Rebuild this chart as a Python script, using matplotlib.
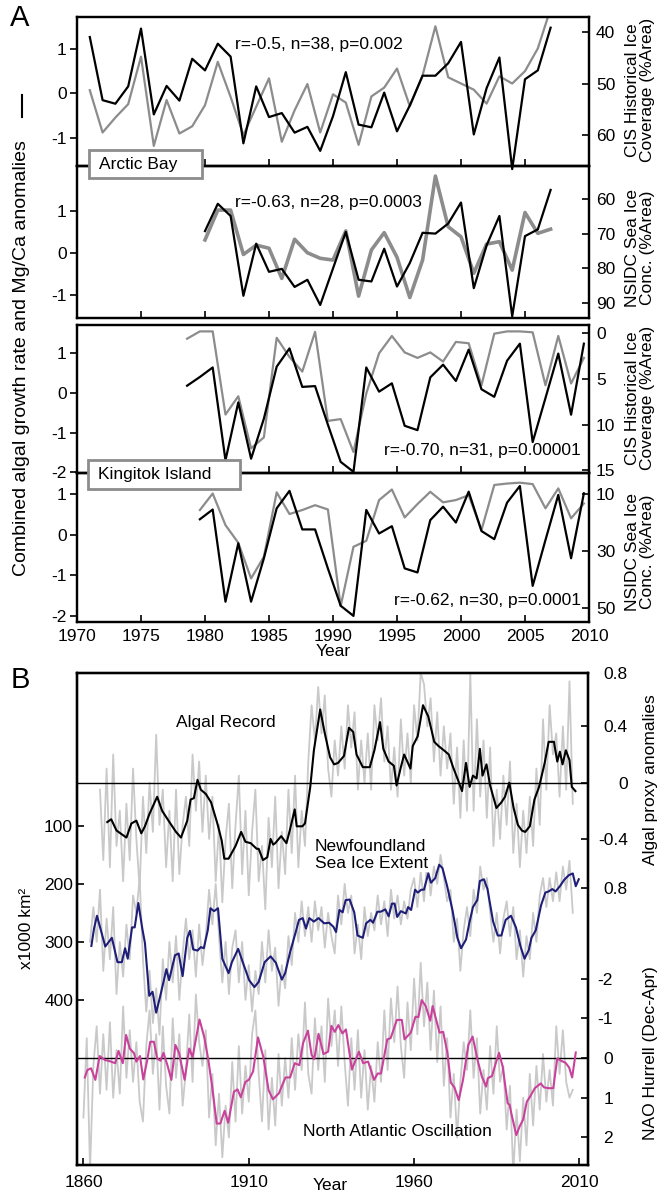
import matplotlib
matplotlib.use("Agg")
import matplotlib.pyplot as plt
from matplotlib.lines import Line2D
from matplotlib.patches import Rectangle

plt.rcParams['font.family'] = ['Liberation Sans', 'DejaVu Sans']
plt.rcParams['font.size'] = 12.5
plt.rcParams['axes.unicode_minus'] = False

# ---------------- Panel A data ----------------
# Arctic Bay, algal anomalies vs CIS ice coverage (%)
ab_years = list(range(1971, 2008))
ab_algal = [1.26, -0.16, -0.24, 0.15, 1.45, -0.48, 0.16, -0.17, 0.77, 0.51,
            1.11, 0.82, -1.13, 0.15, -0.54, -0.45, -0.89, -0.76, -1.30, -0.52,
            0.47, -0.71, -0.77, 0.01, -0.86, -0.28, 0.39, 0.39, 0.67, 1.15,
            -0.93, 0.11, 0.80, -1.71, 0.31, 0.51, 1.47]
ab_cis = [51.3, 59.5, 56.6, 54.0, 44.8, 62.1, 53.2, 59.7, 58.3, 54.2,
          45.8, 52.6, 60.0, 54.5, 49.0, 61.3, 55.2, 50.1, 59.5, 52.1,
          53.7, 61.9, 52.5, 50.8, 47.1, 54.4, 48.4, 38.9, 48.8, 50.0,
          51.2, 53.9, 48.6, 50.0, 47.6, 43.2, 35.5]

# Arctic Bay, algal anomalies vs NSIDC concentration (%)
ab2_years = list(range(1980, 2008))
ab2_algal = [0.52, 1.17, 0.88, -1.02, 0.22, -0.45, -0.38, -0.81, -0.64, -1.24,
             -0.37, 0.50, -0.64, -0.68, 0.10, -0.80, -0.24, 0.48, 0.46, 0.70,
             1.20, -0.84, 0.18, 0.88, -1.51, 0.40, 0.56, 1.50]
ab2_nsidc = [71.8, 63.2, 63.2, 76.0, 73.3, 74.2, 82.9, 71.6, 75.5, 77.1,
             77.6, 69.2, 88.0, 74.7, 69.7, 76.8, 88.4, 77.6, 53.4, 68.0,
             70.9, 81.4, 73.0, 72.3, 80.5, 63.9, 69.9, 68.7]

# Kingitok Island (winter seasons, plotted mid-season)
ki_years = [y + 0.6 for y in range(1978, 2010)]
ki_algal = [0.18, 0.40, 0.64, -1.70, -0.24, -1.66, -0.65, 0.66, 1.12, 0.15,
            0.17, -0.80, -1.74, -1.99, 0.64, 0.03, 0.24, -0.83, -0.94, 0.39,
            0.71, 0.30, 1.09, 0.09, -0.10, 0.81, 1.24, -1.24, -0.13, 0.99,
            -0.55, 1.24]
ki_cis = [0.6, -0.2, -0.2, 8.9, 6.9, 12.6, 11.4, 0.5, 2.6, 4.2,
          -0.15, 9.6, 9.4, 13.0, 6.6, 2.2, 0.3, 2.1, 2.7, 2.1,
          3.1, 0.95, 1.1, 5.7, 0.05, -0.2, -0.2, -0.1, 5.7, 0.3,
          5.5, 2.7]

ki2_years = [y + 0.6 for y in range(1979, 2010)]
ki2_algal = [0.38, 0.62, -1.65, -0.21, -1.65, -0.58, 0.65, 1.08, 0.13, 0.13,
             -0.83, -1.75, -2.00, 0.61, 0.03, 0.21, -0.83, -0.93, 0.36, 0.69,
             0.30, 1.06, 0.09, -0.11, 0.79, 1.20, -1.26, -0.13, 0.98, -0.58,
             1.02]
ki2_nsidc = [15.6, 9.8, 20.9, 27.1, 39.6, 32.0, 9.4, 17.0, 15.6, 13.9,
             15.4, 49.3, 28.5, 26.4, 12.1, 8.4, 18.2, 13.5, 9.2, 12.9,
             12.1, 10.4, 22.6, 6.8, 6.3, 6.0, 6.5, 15.0, 8.0, 18.5,
             13.3]

stats = ["r=-0.5, n=38, p=0.002", "r=-0.63, n=28, p=0.0003",
         "r=-0.70, n=31, p=0.00001", "r=-0.62, n=30, p=0.0001"]

# ---------------- Panel B data ----------------
alg_years = [1867.2, 1868.4, 1870.0, 1873.0, 1874.5, 1876.0, 1877.5, 1878.6, 1880.0, 1882.3,
             1883.8, 1886.0, 1888.0, 1889.5, 1891.4, 1892.4, 1893.4, 1894.5, 1895.5, 1897.0,
             1898.6, 1900.5, 1901.8, 1902.6, 1903.9, 1906.0, 1907.7, 1909.0, 1910.6, 1912.4,
             1913.0, 1914.3, 1915.6, 1916.6, 1917.4, 1918.0, 1919.8, 1921.4, 1922.4, 1923.9,
             1924.5, 1926.2, 1927.0, 1928.6, 1929.7, 1931.6, 1933.0, 1934.6, 1935.8, 1937.0,
             1938.8, 1940.3, 1941.6, 1942.6, 1944.5, 1946.6, 1948.0, 1949.7, 1950.7, 1952.3,
             1953.9, 1954.7, 1956.0, 1957.0, 1958.9, 1959.6, 1961.1, 1962.7, 1964.3, 1966.1,
             1967.4, 1969.0, 1970.5, 1971.8, 1973.1, 1974.5, 1975.7, 1976.8, 1977.8, 1978.9,
             1979.9, 1980.7, 1981.9, 1983.0, 1984.9, 1986.4, 1987.5, 1988.8, 1990.1, 1991.4,
             1992.6, 1993.6, 1995.0, 1996.4, 1997.8, 1999.5, 2000.7, 2002.3, 2003.3, 2004.1,
             2004.9, 2005.9, 2007.0, 2007.7, 2008.8]
alg_smooth = [-0.28, -0.26, -0.34, -0.39, -0.29, -0.27, -0.36, -0.31, -0.22, -0.10,
              -0.20, -0.28, -0.35, -0.39, -0.27, -0.12, -0.11, 0.02, -0.05, -0.08,
              -0.14, -0.29, -0.41, -0.54, -0.54, -0.45, -0.35, -0.42, -0.43, -0.47,
              -0.47, -0.55, -0.53, -0.40, -0.44, -0.43, -0.38, -0.43, -0.34, -0.19,
              -0.31, -0.31, -0.29, -0.03, 0.23, 0.52, 0.35, 0.18, 0.13, 0.14,
              0.19, 0.39, 0.36, 0.20, 0.11, 0.11, 0.23, 0.43, 0.24, 0.15,
              0.12, -0.02, 0.11, 0.20, 0.10, 0.26, 0.33, 0.55, 0.47, 0.29,
              0.26, 0.23, 0.20, 0.11, 0.03, -0.06, 0.14, -0.03, 0.05, 0.03,
              0.24, 0.05, 0.13, -0.02, -0.18, -0.14, -0.10, 0.00, -0.18, -0.30,
              -0.34, -0.35, -0.31, -0.12, -0.03, 0.14, 0.29, 0.29, 0.15, 0.22,
              0.13, 0.23, 0.16, -0.03, -0.06]
alg_raw = [-0.05, -0.55, 0.10, -0.60, 0.20, -0.45, -0.20, -0.70, -0.15, -0.55,
           0.10, -0.40, -0.75, -0.10, -0.50, 0.00, -0.35, 0.34, -0.30, -0.05,
           -0.60, -0.20, -0.70, -0.05, -0.65, -0.30, -0.10, -0.45, 0.20, -0.20,
           0.15, -0.35, 0.05, -0.40, -0.10, -0.70, -0.30, -0.85, -0.40, -0.15,
           -0.75, -0.30, 0.05, -0.65, -0.20, -0.80, -0.35, -0.05, -0.70, -0.45,
           -0.90, -0.25, -0.60, -0.10, -0.75, -0.35, -0.65, -0.05, -0.50, 0.05,
           -0.60, -0.20, -0.45, 0.15, 0.55, 0.30, 0.68, 0.35, 0.62, 0.10,
           -0.10, 0.30, 0.05, 0.40, 0.10, 0.55, 0.25, 0.50, -0.05, 0.30,
           0.00, 0.35, -0.05, 0.55, 0.30, 0.60, 0.15, 0.40, -0.05, 0.25,
           -0.10, 0.45, 0.05, 0.35, 0.00, 0.55, 0.30, 0.78, 0.70, 0.40,
           0.60, 0.15, 0.50, 0.05, 0.40, 0.10, 0.35, -0.15, 0.25, -0.25,
           0.30, -0.20, 0.78, -0.20, 0.45, -0.10, 0.30, -0.25, 0.25, -0.45,
           -0.05, -0.40, 0.05, -0.30, 0.15, -0.50, -0.15, -0.60, -0.20, -0.50,
           -0.10, -0.45, 0.10, -0.30, 0.45, -0.05, 0.55, 0.20, 0.35, -0.10,
           0.40, -0.05, 0.72, -0.15]

nf_years = [1862.4, 1863.2, 1864.1, 1866.6, 1868.6, 1870.3, 1871.6, 1872.6, 1873.4, 1874.7,
            1875.5, 1876.6, 1877.8, 1878.6, 1879.9, 1880.9, 1882.0, 1883.2, 1885.1, 1885.9,
            1887.7, 1888.8, 1890.0, 1891.4, 1892.2, 1893.2, 1894.5, 1895.5, 1896.4, 1897.6,
            1898.4, 1899.5, 1900.7, 1902.0, 1903.9, 1904.9, 1906.8, 1908.0, 1910.1, 1911.7,
            1913.0, 1914.8, 1916.6, 1918.2, 1920.0, 1921.0, 1922.4, 1924.2, 1925.2, 1926.3,
            1927.3, 1928.3, 1929.7, 1931.1, 1932.8, 1934.3, 1935.6, 1936.4, 1937.4, 1938.4,
            1939.3, 1940.5, 1941.9, 1942.9, 1944.5, 1945.5, 1946.8, 1947.6, 1948.9, 1949.9,
            1951.3, 1952.3, 1953.3, 1954.1, 1954.9, 1956.0, 1957.5, 1958.2, 1959.1, 1960.3,
            1961.1, 1962.2, 1963.0, 1964.3, 1965.1, 1966.4, 1967.6, 1968.6, 1970.0, 1971.6,
            1973.1, 1974.2, 1975.7, 1976.8, 1977.8, 1979.1, 1979.9, 1981.1, 1982.2, 1983.9,
            1985.3, 1986.4, 1987.7, 1989.3, 1990.8, 1992.2, 1993.4, 1994.7, 1995.5, 1996.8,
            1998.4, 1999.7, 2000.7, 2001.8, 2002.8, 2004.1, 2005.4, 2006.8, 2008.0, 2008.9,
            2009.8]
nf_smooth = [307, 277, 255, 308, 293, 335, 335, 311, 329, 275,
             275, 233, 277, 302, 393, 386, 422, 394, 347, 366,
             323, 320, 359, 293, 281, 313, 315, 309, 311, 280,
             242, 247, 242, 329, 354, 335, 312, 332, 366, 378,
             369, 335, 325, 336, 365, 354, 320, 283, 262, 259,
             277, 259, 265, 259, 268, 267, 274, 283, 245, 249,
             228, 227, 249, 289, 293, 268, 262, 267, 248, 248,
             244, 256, 234, 234, 257, 247, 251, 240, 245, 210,
             215, 210, 210, 182, 198, 190, 167, 173, 204, 245,
             293, 311, 296, 265, 240, 228, 195, 192, 209, 265,
             289, 289, 262, 255, 275, 308, 329, 314, 293, 280,
             237, 215, 213, 209, 213, 204, 193, 185, 182, 204,
             192]
nf_raw = [300, 240, 300, 210, 350, 260, 330, 240, 390, 300,
          360, 270, 330, 220, 250, 190, 330, 420, 350, 440,
          380, 460, 330, 400, 300, 370, 290, 400, 320, 260,
          330, 280, 360, 270, 340, 290, 210, 270, 200, 290,
          370, 300, 390, 310, 280, 370, 300, 400, 340, 420,
          350, 390, 300, 370, 280, 350, 310, 410, 340, 380,
          290, 340, 250, 300, 230, 290, 240, 300, 230, 280,
          240, 310, 250, 290, 320, 220, 270, 200, 250, 220,
          320, 270, 330, 240, 290, 250, 280, 220, 270, 230,
          290, 210, 260, 220, 270, 230, 260, 210, 190, 240,
          180, 230, 160, 220, 170, 200, 150, 190, 230, 210,
          300, 260, 350, 280, 240, 290, 210, 250, 170, 210,
          190, 250, 300, 250, 320, 260, 230, 290, 240, 330,
          280, 360, 290, 330, 250, 300, 220, 190, 240, 190,
          230, 180, 230, 170, 210, 160, 250]

nao_years = [1860.4, 1861.2, 1862.3, 1863.6, 1864.9, 1866.5, 1868.0, 1869.6, 1870.6, 1871.9,
             1872.9, 1874.0, 1875.3, 1876.0, 1877.1, 1878.1, 1879.3, 1880.2, 1881.3, 1882.3,
             1883.3, 1884.2, 1885.4, 1886.6, 1887.8, 1888.9, 1890.6, 1892.0, 1893.0, 1895.1,
             1896.5, 1897.7, 1898.8, 1900.3, 1901.4, 1902.7, 1903.8, 1905.5, 1906.6, 1907.6,
             1909.0, 1910.0, 1911.3, 1912.8, 1914.4, 1916.0, 1917.3, 1919.1, 1921.1, 1922.5,
             1923.9, 1925.3, 1926.4, 1927.9, 1929.0, 1929.8, 1931.1, 1932.6, 1934.0, 1935.0,
             1936.0, 1937.1, 1938.3, 1939.4, 1941.2, 1943.3, 1944.6, 1946.1, 1947.9, 1949.0,
             1950.0, 1951.9, 1952.9, 1954.8, 1956.3, 1957.1, 1959.0, 1960.4, 1961.3, 1962.3,
             1963.5, 1964.9, 1965.6, 1967.7, 1968.8, 1970.1, 1971.1, 1972.2, 1973.5, 1974.8,
             1976.4, 1977.7, 1979.2, 1980.5, 1981.8, 1982.3, 1983.6, 1984.7, 1985.7, 1986.8,
             1988.3, 1988.9, 1989.4, 1990.9, 1992.0, 1993.0, 1994.1, 1995.1, 1996.5, 1998.3,
             1999.3, 2000.7, 2002.1, 2003.3, 2004.5, 2005.8, 2006.9, 2007.8, 2008.9]
nao_smooth = [0.49, 0.30, 0.26, 0.55, -0.05, 0.05, 0.08, 0.13, -0.18, 0.13,
              -0.58, -0.24, -0.12, 0.09, -0.05, 0.54, 0.05, -0.41, -0.41, 0.01,
              0.07, -0.13, 0.18, 0.55, -0.33, -0.13, 0.55, -0.24, -0.02, -0.97,
              -0.54, 0.01, 0.64, 1.65, 1.65, 1.33, 1.63, 0.85, 0.79, 0.99,
              0.60, 0.55, 0.34, -0.52, -0.03, 0.81, 1.04, 0.89, 0.49, 0.49,
              0.13, 0.18, -0.37, -0.69, -0.08, 0.03, -0.61, -0.10, -0.16, -0.81,
              -0.66, -0.83, -0.62, -0.72, 0.29, -0.16, 0.13, 0.09, 0.55, 0.39,
              0.39, -0.47, -0.50, -0.96, -0.96, -0.47, -0.64, -1.04, -1.03, -1.46,
              -1.31, -0.94, -1.31, -0.64, -0.66, -0.12, 0.62, 0.74, 1.06, 0.55,
              -0.33, -0.54, 0.05, 0.47, 0.72, 0.51, 0.45, 0.13, -0.13, 0.22,
              1.14, 1.18, 1.39, 1.94, 1.71, 1.55, 1.10, 0.97, 0.76, 0.64,
              0.74, 0.76, 0.76, 0.01, 0.07, 0.12, 0.24, 0.49, -0.14]
nao_raw = [1.5, -0.5, 2.8, 0.2, -0.8, 0.9, -0.6, 0.8, -0.9, 1.0,
           -0.2, 0.9, -1.3, 0.5, -0.7, 0.6, -0.4, 1.1, 1.6, -0.3,
           -1.2, 0.4, -0.6, 1.3, -0.8, 0.7, 1.4, -1.0, 0.5, -0.6,
           1.2, 0.3, -1.1, 0.6, -1.6, -0.4, 0.2, -0.7, 1.5, 0.4,
           2.2, 0.9, 2.5, 1.2, 2.0, 0.1, 1.6, -0.3, 1.4, 0.2,
           1.1, -0.6, -1.2, 0.4, 1.6, -0.2, 1.8, 0.5, 1.7, -0.1,
           1.2, 0.0, 1.0, -0.5, 0.8, -0.6, 0.3, -1.4, 0.4, 0.9,
           -1.0, 0.3, -0.8, 0.6, -1.5, -0.3, -1.2, 0.2, -1.3, 0.1,
           1.2, -0.5, 0.8, -0.7, 1.0, -0.2, 1.3, 0.2, 1.1, -0.4,
           0.6, -1.2, 0.3, -1.5, -0.4, -1.8, -0.3, 0.5, -1.4, -0.2,
           -2.0, -0.6, -2.4, -0.8, -1.9, -0.2, -1.7, 0.1, -1.3, 0.7,
           -0.5, 1.5, 0.4, 2.0, 0.6, -0.4, 0.3, -1.2, 0.5, -0.5,
           1.4, 0.3, 1.3, -0.3, 0.9, -0.8, 0.6, 0.2, 1.8, 0.7,
           2.9, 1.3, 2.6, 1.0, 2.2, 0.4, 1.7, 0.2, 1.3, -0.1,
           1.1, 0.3, 1.2, -0.8, 0.4, -0.7, 0.6, 1.0, 0.8]

alg_raw_years = list(range(1865, 1865 + len(alg_raw)))
nf_raw_years = list(range(1862, 1862 + len(nf_raw)))
nao_raw_years = list(range(1860, 1860 + len(nao_raw)))

# ---------------- layout helpers (pixel -> figure fraction) ----------------
W, H = 660.0, 1193.0
fig = plt.figure(figsize=(6.6, 11.93), dpi=100)


def frame(left, top, right, bottom):
    return [left / W, 1 - bottom / H, (right - left) / W, (bottom - top) / H]


def at(x, y):
    return x / W, 1 - y / H


gray = '#8c8c8c'
light = '#c9c9c9'
navy = '#1e1e78'
pink = '#c8429b'
fs = 12.5

# ---------------- Panel A ----------------
panels = [
    (ab_years, ab_algal, ab_cis, 17, 166, (-1.64, 1.71), (66.0, 37.1), [-1, 0, 1], [40, 50, 60], 1.6),
    (ab2_years, ab2_algal, ab2_nsidc, 166, 318, (-1.55, 2.07), (94.3, 50.5), [-1, 0, 1], [60, 70, 80, 90], 2.6),
    (ki_years, ki_algal, ki_cis, 325, 473, (-2.02, 1.71), (15.3, -0.9), [-2, -1, 0, 1], [0, 5, 10, 15], 1.6),
    (ki2_years, ki2_algal, ki2_nsidc, 473, 622, (-2.15, 1.52), (54.9, 2.6), [-2, -1, 0, 1], [10, 30, 50], 1.6),
]

for i, (yrs, black, grey, top, bottom, llim, rlim, lt, rt, glw) in enumerate(panels):
    ax = fig.add_axes(frame(77, top, 589, bottom))
    tw = ax.twinx()
    tw.plot(yrs, grey, color=gray, lw=glw)
    ax.plot(yrs, black, color='k', lw=1.6, clip_on=(i != 0))
    ax.set_zorder(tw.get_zorder() + 1)
    ax.patch.set_visible(False)
    ax.set_xlim(1970, 2010)
    ax.set_ylim(*llim)
    tw.set_ylim(*rlim)
    ax.set_xticks(range(1970, 2011, 5))
    ax.set_yticks(lt)
    tw.set_yticks(rt)
    ax.tick_params(axis='x', direction='in', length=5, width=1.2, pad=5,
                   labelbottom=(i == 3), labelsize=fs)
    ax.tick_params(axis='y', direction='out', length=5, width=1.2, pad=2.5, labelsize=fs)
    tw.tick_params(axis='y', direction='in', length=5, width=1.2, pad=5, labelsize=fs)
    for a in (ax, tw):
        for s in a.spines.values():
            s.set_linewidth(1.6)

fig.text(*at(235, 44), stats[0], fontsize=fs, va='center', ha='left')
fig.text(*at(235, 202), stats[1], fontsize=fs, va='center', ha='left')
fig.text(*at(581, 450), stats[2], fontsize=fs, va='center', ha='right')
fig.text(*at(581, 600), stats[3], fontsize=fs, va='center', ha='right')

for (l, t, r, b, label) in [(89, 150, 202, 178, "Arctic Bay"), (88, 460, 240, 489, "Kingitok Island")]:
    fig.add_artist(Rectangle((l / W, 1 - b / H), (r - l) / W, (b - t) / H,
                             transform=fig.transFigure, facecolor='white',
                             edgecolor=gray, lw=2, zorder=10))
    fig.text(*at(l + 10, (t + b) / 2), label, fontsize=fs, va='center', ha='left', zorder=11)

for yc, label in [(90, "CIS Historical Ice\nCoverage (%Area)"),
                  (248, "NSIDC Sea Ice\nConc. (%Area)"),
                  (398, "CIS Historical Ice\nCoverage (%Area)"),
                  (552, "NSIDC Sea Ice\nConc. (%Area)")]:
    fig.text(*at(640, yc), label, fontsize=fs, rotation=90, va='center', ha='center',
             multialignment='center', linespacing=1.0)

fig.text(*at(22, 358), "Combined algal growth rate and Mg/Ca anomalies", fontsize=14,
         rotation=90, va='center', ha='center')
fig.add_artist(Line2D([22 / W, 22 / W], [1 - 95 / H, 1 - 117 / H], color='k', lw=1.5))
fig.text(*at(333, 652), "Year", fontsize=fs, ha='center', va='center')
fig.text(*at(20, 18), "A", fontsize=21, ha='center', va='center')

# ---------------- Panel B ----------------
posB = frame(76.5, 673, 588, 1165)
xlimB = (1857.9, 2012.6)
km_lim = (684.7, -163.6)
alg_lim = (-2.716, 0.779)
nao_lim = (2.695, -9.70)

# grey annual records on layers underneath
for yrs, vals, lim in [(nf_raw_years, nf_raw, km_lim), (alg_raw_years, alg_raw, alg_lim),
                       (nao_raw_years, nao_raw, nao_lim)]:
    g = fig.add_axes(posB)
    g.plot(yrs, vals, color=light, lw=1.3)
    g.set_xlim(*xlimB)
    g.set_ylim(*lim)
    g.axis('off')
    g.set_zorder(0)

axk = fig.add_axes(posB)
axa = axk.twinx()
axn = axk.twinx()
for z, a in enumerate((axk, axa, axn), start=1):
    a.set_zorder(z)
    a.patch.set_visible(False)
    for s in a.spines.values():
        s.set_linewidth(1.6)

axk.plot(nf_years, nf_smooth, color=navy, lw=1.5)
axa.axhline(0, color='k', lw=1)
axa.plot(alg_years, alg_smooth, color='k', lw=1.5)
axn.axhline(0, color='k', lw=1)
axn.plot(nao_years, nao_smooth, color=pink, lw=1.5)

axk.set_xlim(*xlimB)
axk.set_ylim(*km_lim)
axa.set_ylim(*alg_lim)
axn.set_ylim(*nao_lim)

axk.set_xticks([1860, 1910, 1960, 2010])
axk.set_yticks([100, 200, 300, 400])
axk.tick_params(axis='x', direction='in', length=5, width=1.2, pad=7, labelsize=fs)
axk.tick_params(axis='y', direction='in', length=5, width=1.2, pad=2.5, labelsize=fs)

axa.set_yticks([0.779, 0.4, 0, -0.4, -0.748])
axa.set_yticklabels(['0.8', '0.4', '0', '-0.4', '0.8'])
axa.tick_params(axis='y', direction='in', length=5, width=1.2, pad=28.8, labelsize=fs)
plt.setp(axa.get_yticklabels(), ha='right')

axn.set_yticks([-2, -1, 0, 1, 2])
axn.tick_params(axis='y', direction='in', length=5, width=1.2, pad=18, labelsize=fs)
plt.setp(axn.get_yticklabels(), ha='right')

fig.text(*at(226, 722), "Algal Record", fontsize=fs, ha='center', va='center', zorder=20)
fig.text(*at(315, 855), "Newfoundland\nSea Ice Extent", fontsize=fs, ha='left', va='center',
         linespacing=1.1, zorder=20,
         bbox=dict(facecolor='white', edgecolor='none', pad=1))
fig.text(*at(397, 1131), "North Atlantic Oscillation", fontsize=fs, ha='center', va='center',
         zorder=20)
fig.text(*at(651, 780), "Algal proxy anomalies", fontsize=fs, rotation=90, ha='center', va='center')
fig.text(*at(651, 1053), "NAO Hurrell (Dec-Apr)", fontsize=fs, rotation=90, ha='center', va='center')
fig.text(*at(27, 928), "x1000 km²", fontsize=fs, rotation=90, ha='center', va='center')
fig.text(*at(330, 1185), "Year", fontsize=fs, ha='center', va='center')
fig.text(*at(20, 680), "B", fontsize=21, ha='center', va='center')

fig.savefig("out.png", dpi=100)
